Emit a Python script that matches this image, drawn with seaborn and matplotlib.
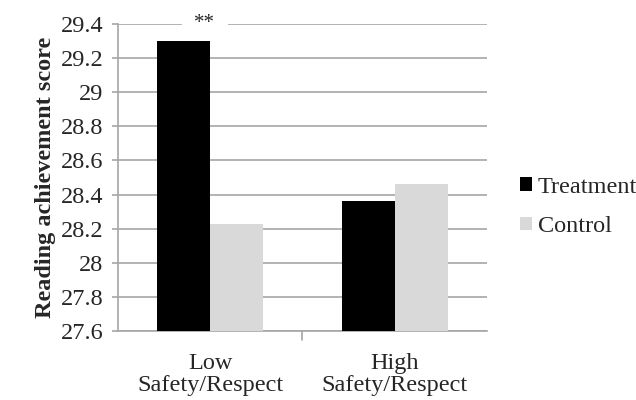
import matplotlib
matplotlib.use("Agg")
import matplotlib.pyplot as plt
import seaborn as sns
import pandas as pd

categories = ["Low\nSafety/Respect", "High\nSafety/Respect"]
groups = ["Treatment", "Control"]
treatment = [29.30, 28.36]
control = [28.23, 28.46]
yticks = [27.6, 27.8, 28.0, 28.2, 28.4, 28.6, 28.8, 29.0, 29.2, 29.4]
ytick_labels = ["27.6", "27.8", "28", "28.2", "28.4", "28.6", "28.8", "29", "29.2", "29.4"]

df = pd.DataFrame({
    "cat": categories * 2,
    "group": [groups[0]] * 2 + [groups[1]] * 2,
    "value": treatment + control,
})

sns.set_theme(style="white")
plt.rcParams["font.family"] = ["Liberation Serif", "DejaVu Serif"]

FS = 17.5
grid_c = "#a6a6a6"

fig = plt.figure(figsize=(6.36, 4.0), dpi=100)
ax = fig.add_axes([0.1855, 0.1725, 0.5802, 0.7675])

sns.barplot(data=df, x="cat", y="value", hue="group", order=categories, hue_order=groups,
            palette={"Treatment": "#000000", "Control": "#d9d9d9"}, width=0.575,
            ax=ax, zorder=3, linewidth=0)

ax.set_ylim(27.6, 29.4)
ax.set_xlim(-0.5, 1.5)
ax.set_yticks(yticks)
ax.set_yticklabels(ytick_labels, fontsize=FS)
ax.tick_params(axis="y", length=4.5, width=1.2, color=grid_c, pad=6, left=True)
ax.tick_params(axis="x", length=0, pad=16, labelsize=FS)
for lab in ax.get_xticklabels():
    lab.set_linespacing(1.05)
ax.yaxis.grid(True, color=grid_c, linewidth=1.2, zorder=0)
ax.set_axisbelow(True)
for s in ["top", "right"]:
    ax.spines[s].set_visible(False)
for s in ["left", "bottom"]:
    ax.spines[s].set_color(grid_c)
    ax.spines[s].set_linewidth(1.2)
ax.set_xlabel("")
ax.set_ylabel("Reading achievement score", fontsize=FS, fontweight="bold", labelpad=3)

# category divider tick below axis
ax.plot([0.5, 0.5], [27.6, 27.6 - 0.05], color=grid_c, lw=1.2, clip_on=False)

# significance marker (white patch breaks the top gridline, sits under bars)
ax.text(-0.03, 29.4, "**", ha="center", va="center", fontsize=15,
        bbox=dict(facecolor="white", edgecolor="none", pad=9), zorder=2)

leg = ax.legend(loc="center left", bbox_to_anchor=(1.09, 0.404), frameon=False,
                fontsize=FS, handlelength=0.5, handleheight=0.5, handletextpad=0.22,
                labelspacing=0.75, borderpad=0, borderaxespad=0)

fig.savefig("out.png", dpi=100)
